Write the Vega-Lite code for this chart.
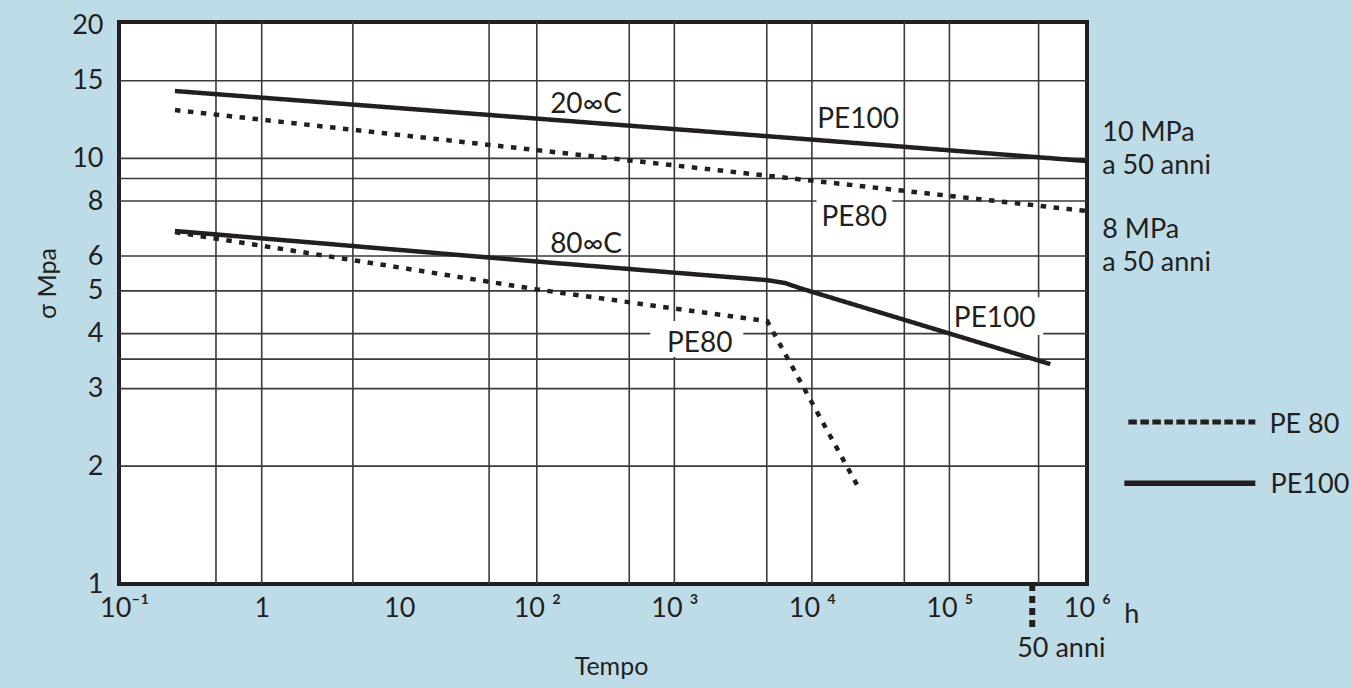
{
  "$schema": "https://vega.github.io/schema/vega-lite/v6.json",
  "width": 968,
  "height": 562,
  "autosize": {"type": "none"},
  "padding": {"left": 119, "top": 22, "right": 265, "bottom": 104},
  "background": "#bddce7",
  "config": {
    "font": "Lato",
    "view": {"stroke": "#231f20", "strokeWidth": 4, "fill": "#ffffff"},
    "axis": {
      "domain": false, "ticks": false, "tickSize": 0, "grid": false,
      "labelFont": "Lato", "labelFontSize": 27, "labelColor": "#231f20",
      "titleFont": "Lato", "titleFontWeight": "normal", "titleColor": "#231f20",
      "labelFlush": false, "labelOverlap": false
    }
  },
  "datasets": {
    "curves": [
      {"serie": "PE100 20°C", "materiale": "PE100", "t": 0.234, "sigma": 14.22},
      {"serie": "PE100 20°C", "materiale": "PE100", "t": 100, "sigma": 12.31},
      {"serie": "PE100 20°C", "materiale": "PE100", "t": 10000, "sigma": 11.03},
      {"serie": "PE100 20°C", "materiale": "PE100", "t": 1000000, "sigma": 9.86},
      {"serie": "PE80 20°C", "materiale": "PE 80", "t": 0.234, "sigma": 12.87},
      {"serie": "PE80 20°C", "materiale": "PE 80", "t": 100, "sigma": 10.44},
      {"serie": "PE80 20°C", "materiale": "PE 80", "t": 10000, "sigma": 8.9},
      {"serie": "PE80 20°C", "materiale": "PE 80", "t": 1000000, "sigma": 7.59},
      {"serie": "PE100 80°C", "materiale": "PE100", "t": 0.234, "sigma": 6.84},
      {"serie": "PE100 80°C", "materiale": "PE100", "t": 100, "sigma": 5.83},
      {"serie": "PE100 80°C", "materiale": "PE100", "t": 4730, "sigma": 5.29},
      {"serie": "PE100 80°C", "materiale": "PE100", "t": 6390, "sigma": 5.21},
      {"serie": "PE100 80°C", "materiale": "PE100", "t": 8230, "sigma": 5.07},
      {"serie": "PE100 80°C", "materiale": "PE100", "t": 541000, "sigma": 3.41},
      {"serie": "PE80 80°C", "materiale": "PE 80", "t": 0.234, "sigma": 6.8},
      {"serie": "PE80 80°C", "materiale": "PE 80", "t": 10.1, "sigma": 5.65},
      {"serie": "PE80 80°C", "materiale": "PE 80", "t": 100, "sigma": 5.04},
      {"serie": "PE80 80°C", "materiale": "PE 80", "t": 1000, "sigma": 4.56},
      {"serie": "PE80 80°C", "materiale": "PE 80", "t": 4730, "sigma": 4.27},
      {"serie": "PE80 80°C", "materiale": "PE 80", "t": 22450, "sigma": 1.76}
    ],
    "vgrid": [
      {"t": 0.465}, {"t": 1}, {"t": 4.6}, {"t": 45}, {"t": 100}, {"t": 470},
      {"t": 1000}, {"t": 4700}, {"t": 10000}, {"t": 47000}, {"t": 100000}, {"t": 445000}
    ],
    "hgrid": [
      {"sigma": 15}, {"sigma": 10}, {"sigma": 9}, {"sigma": 8}, {"sigma": 6},
      {"sigma": 5}, {"sigma": 4}, {"sigma": 3.5}, {"sigma": 3}, {"sigma": 2}
    ],
    "boxes": [
      {"t": 10800, "t2": 38400, "sigma": 8.12, "sigma2": 6.66},
      {"t": 668, "t2": 3175, "sigma": 4.27, "sigma2": 3.54},
      {"t": 101300, "t2": 481000, "sigma": 4.84, "sigma2": 3.97}
    ],
    "labels": [
      {"text": "20∞C", "t": 228, "sigma": 12.67},
      {"text": "PE100", "t": 21700, "sigma": 11.72},
      {"text": "PE80", "t": 20300, "sigma": 7.02},
      {"text": "80∞C", "t": 228, "sigma": 6.09},
      {"text": "PE80", "t": 1528, "sigma": 3.63},
      {"text": "PE100", "t": 213500, "sigma": 4.14}
    ],
    "side": [
      {"text": "10 MPa", "t": 1292000, "sigma": 10.95},
      {"text": "a 50 anni", "t": 1292000, "sigma": 9.21},
      {"text": "8 MPa", "t": 1292000, "sigma": 6.59},
      {"text": "a 50 anni", "t": 1292000, "sigma": 5.55},
      {"text": "h", "t": 1870000, "sigma": 0.88},
      {"text": "50 anni", "t": 311000, "sigma": 0.736},
      {"text": "PE 80", "t": 21200000, "sigma": 2.377},
      {"text": "PE100", "t": 21600000, "sigma": 1.737}
    ]
  },
  "layer": [
    {
      "data": {"name": "vgrid"},
      "mark": {"type": "rule", "color": "#3a3a3a", "strokeWidth": 1.6},
      "encoding": {"x": {"field": "t", "type": "quantitative"}}
    },
    {
      "data": {"name": "hgrid"},
      "mark": {"type": "rule", "color": "#3a3a3a", "strokeWidth": 1.6},
      "encoding": {"y": {"field": "sigma", "type": "quantitative"}}
    },
    {
      "data": {"name": "boxes"},
      "mark": {"type": "rect", "fill": "#ffffff", "strokeWidth": 0},
      "encoding": {
        "x": {"field": "t", "type": "quantitative"},
        "x2": {"field": "t2"},
        "y": {"field": "sigma", "type": "quantitative"},
        "y2": {"field": "sigma2"}
      }
    },
    {
      "data": {"name": "curves"},
      "mark": {"type": "line", "color": "#231f20", "strokeWidth": 4.5, "strokeCap": "butt", "strokeJoin": "round"},
      "encoding": {
        "x": {
          "field": "t", "type": "quantitative",
          "scale": {"type": "log", "domain": [0.0917, 1000500], "nice": false},
          "axis": {
            "title": "Tempo",
            "values": [0.1, 1, 10, 100, 1000, 10000, 100000, 1000000],
            "labelExpr": "['10⁻¹','1','10','10 ²','10 ³','10 ⁴','10 ⁵','10 ⁶'][round(log(datum.value)/LN10)+1]",
            "labelPadding": 11,
            "titlePadding": 33,
            "titleFontSize": 25,
            "titleX": 492
          }
        },
        "y": {
          "field": "sigma", "type": "quantitative",
          "scale": {"type": "log", "domain": [1.08, 20.4], "nice": false},
          "axis": {
            "title": "σ Mpa",
            "values": [1.08, 2, 3, 4, 5, 6, 8, 10, 15, 20],
            "format": "d",
            "labelPadding": 16,
            "titlePadding": 11,
            "titleFontSize": 25,
            "titleY": 261
          }
        },
        "detail": {"field": "serie"},
        "strokeDash": {
          "field": "materiale", "type": "nominal",
          "scale": {"domain": ["PE 80", "PE100"], "range": [[5.5, 7.5], [1, 0]]},
          "legend": null
        }
      }
    },
    {
      "data": {"name": "labels"},
      "mark": {"type": "text", "align": "center", "baseline": "alphabetic", "fontSize": 28, "color": "#231f20"},
      "encoding": {
        "x": {"field": "t", "type": "quantitative"},
        "y": {"field": "sigma", "type": "quantitative"},
        "text": {"field": "text"}
      }
    },
    {
      "data": {"name": "side"},
      "mark": {"type": "text", "align": "left", "baseline": "alphabetic", "fontSize": 27, "color": "#231f20"},
      "encoding": {
        "x": {"field": "t", "type": "quantitative"},
        "y": {"field": "sigma", "type": "quantitative"},
        "text": {"field": "text"}
      }
    },
    {
      "data": {"values": [{"t": 400000, "sigma": 1.08, "sigma2": 0.848}]},
      "mark": {"type": "rule", "color": "#231f20", "strokeWidth": 6, "strokeDash": [7, 5]},
      "encoding": {
        "x": {"field": "t", "type": "quantitative"},
        "y": {"field": "sigma", "type": "quantitative"},
        "y2": {"field": "sigma2"}
      }
    },
    {
      "data": {"values": [{"materiale": "PE 80", "t": 2000000, "t2": 16750000, "sigma": 2.518}]},
      "mark": {"type": "rule", "color": "#231f20", "strokeWidth": 5, "strokeDash": [8.5, 3.5]},
      "encoding": {
        "x": {"field": "t", "type": "quantitative"},
        "x2": {"field": "t2"},
        "y": {"field": "sigma", "type": "quantitative"}
      }
    },
    {
      "data": {"values": [{"materiale": "PE100", "t": 1870000, "t2": 16750000, "sigma": 1.83}]},
      "mark": {"type": "rule", "color": "#231f20", "strokeWidth": 5.5},
      "encoding": {
        "x": {"field": "t", "type": "quantitative"},
        "x2": {"field": "t2"},
        "y": {"field": "sigma", "type": "quantitative"}
      }
    }
  ]
}
